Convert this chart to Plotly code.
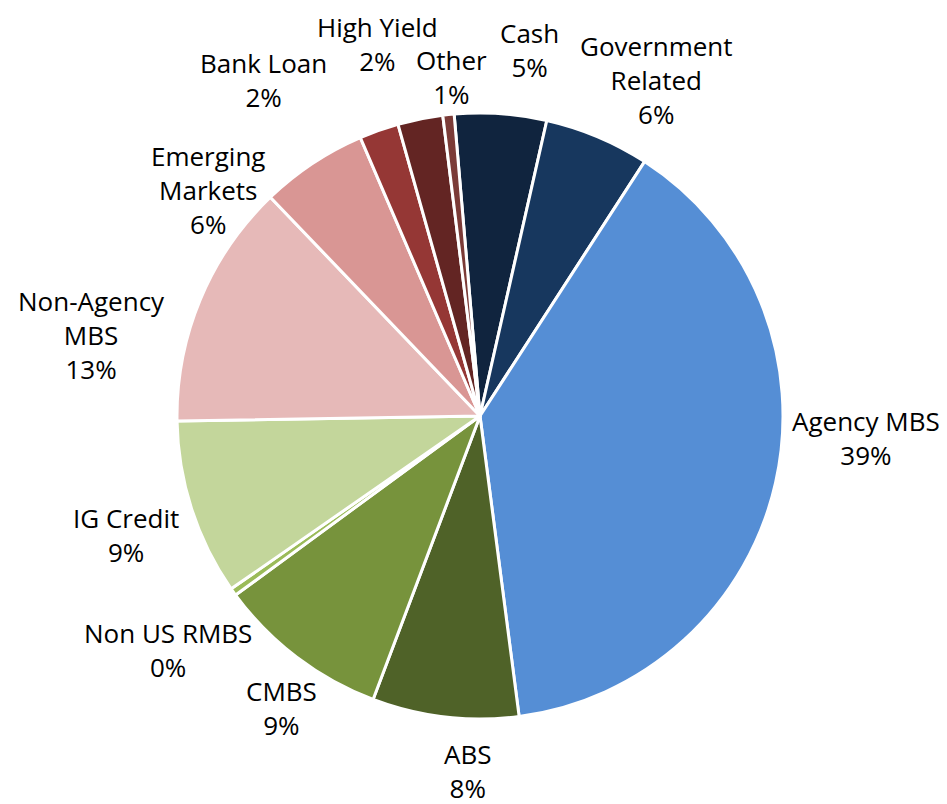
import plotly.graph_objects as go

# ---- data ----
labels = ["Cash", "Government<br>Related", "Agency MBS", "ABS", "CMBS", "Non US RMBS",
          "IG Credit", "Non-Agency<br>MBS", "Emerging<br>Markets", "Bank Loan",
          "High Yield", "Other"]
values = [4.9, 5.6, 38.8, 7.8, 9.2, 0.4, 9.4, 13.1, 5.7, 2.1, 2.4, 0.6]

# ---- styles ----
colors = ["#10243E", "#17375E", "#558ED5", "#4F6228", "#77933C", "#9BBB59",
          "#C3D69B", "#E6B9B8", "#D99694", "#953735", "#632523", "#7B3B37"]
# label block centres (screen pixels from top-left), layout only
label_pos = [(529, 50), (656, 80), (866, 438), (468, 771), (281, 708), (168, 650),
             (126, 535), (91, 335), (208, 190), (264, 80), (377, 44), (451, 77)]

W, H = 947, 804
OFF = 8  # page body margin offset in the screenshot
total = sum(values)

cx, cy, r = 480 - OFF, 416 - OFF, 303

fig = go.Figure(go.Pie(
    labels=labels,
    values=values,
    sort=False,
    direction="clockwise",
    rotation=-4.9,
    marker=dict(colors=colors, line=dict(color="white", width=3)),
    textinfo="none",
    showlegend=False,
    hoverinfo="label+percent",
    domain=dict(x=[(cx - r) / W, (cx + r) / W], y=[1 - (cy + r) / H, 1 - (cy - r) / H]),
))

annotations = []
for lab, v, (px, py) in zip(labels, values, label_pos):
    annotations.append(dict(
        x=(px - OFF) / W, y=1 - (py - OFF) / H, xref="paper", yref="paper",
        xanchor="center", yanchor="middle", align="center",
        text=f"{lab}<br>{round(v / total * 100)}%",
        showarrow=False, borderpad=0,
        font=dict(family="Open Sans", size=26, color="black"),
    ))

fig.update_layout(
    width=W, height=H,
    margin=dict(l=0, r=0, t=0, b=0),
    paper_bgcolor="white",
    plot_bgcolor="white",
    annotations=annotations,
)

fig.write_html("out.html")
